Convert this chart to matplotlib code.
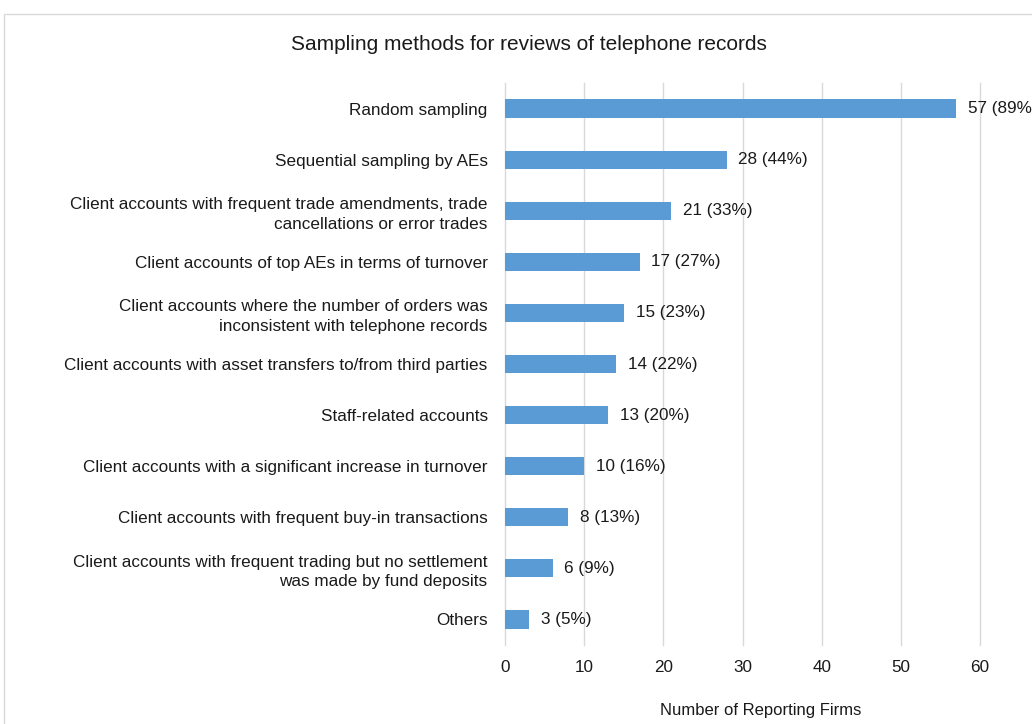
import matplotlib
matplotlib.use("Agg")
import matplotlib.pyplot as plt
from matplotlib.patches import Rectangle

plt.rcParams['font.family'] = ['Liberation Sans', 'DejaVu Sans']

categories = [
    "Random sampling",
    "Sequential sampling by AEs",
    "Client accounts with frequent trade amendments, trade\ncancellations or error trades",
    "Client accounts of top AEs in terms of turnover",
    "Client accounts where the number of orders was\ninconsistent with telephone records",
    "Client accounts with asset transfers to/from third parties",
    "Staff-related accounts",
    "Client accounts with a significant increase in turnover",
    "Client accounts with frequent buy-in transactions",
    "Client accounts with frequent trading but no settlement\nwas made by fund deposits",
    "Others",
]
counts = [57, 28, 21, 17, 15, 14, 13, 10, 8, 6, 3]
percents = [89, 44, 33, 27, 23, 22, 20, 16, 13, 9, 5]
xticks = [0, 10, 20, 30, 40, 50, 60]

W, H = 1032, 724
fig = plt.figure(figsize=(W / 100, H / 100), dpi=100)
fig.patch.set_facecolor("white")

# outer chart border
fig.patches.append(Rectangle((4 / W, -0.1), 1.2, 1 - 14 / H + 0.1,
                             transform=fig.transFigure, fill=False,
                             edgecolor="#D9D9D9", linewidth=1.0, zorder=0))

left, right = 505 / W, 980 / W
top, bottom = 1 - 83 / H, 1 - 645 / H
ax = fig.add_axes([left, bottom, right - left, top - bottom])

ypos = list(range(len(categories)))
ax.barh(ypos, counts, height=0.355, color="#5B9BD5", zorder=2)
ax.set_ylim(len(categories) - 0.5, -0.5)
ax.set_xlim(0, 60)
ax.set_xticks(xticks)
ax.set_xticklabels([str(t) for t in xticks])
ax.set_yticks(ypos)
ax.set_yticklabels(categories, ha="right", linespacing=1.38)

txt = "#1A1A1A"
ax.tick_params(axis="y", length=0, pad=12.5, labelsize=12.3, labelcolor=txt)
ax.tick_params(axis="x", length=0, pad=10.5, labelsize=12.3, labelcolor=txt)
ax.grid(axis="x", color="#D9D9D9", linewidth=1.0, zorder=0)
for gl in ax.get_xgridlines():
    gl.set_clip_on(False)
ax.set_axisbelow(True)
for s in ax.spines.values():
    s.set_visible(False)

for y, c, p in zip(ypos, counts, percents):
    ax.annotate(f"{c} ({p}%)", xy=(c, y), xytext=(8.5, 0), textcoords="offset points",
                ha="left", va="center", fontsize=12.3, color=txt,
                annotation_clip=False)

fig.text(761 / W, 1 - 710 / H, "Number of Reporting Firms",
         ha="center", va="center", fontsize=12, color=txt)
fig.text(529 / W, 1 - 44 / H, "Sampling methods for reviews of telephone records",
         ha="center", va="center", fontsize=15, color=txt)

fig.savefig("out.png", dpi=100)
